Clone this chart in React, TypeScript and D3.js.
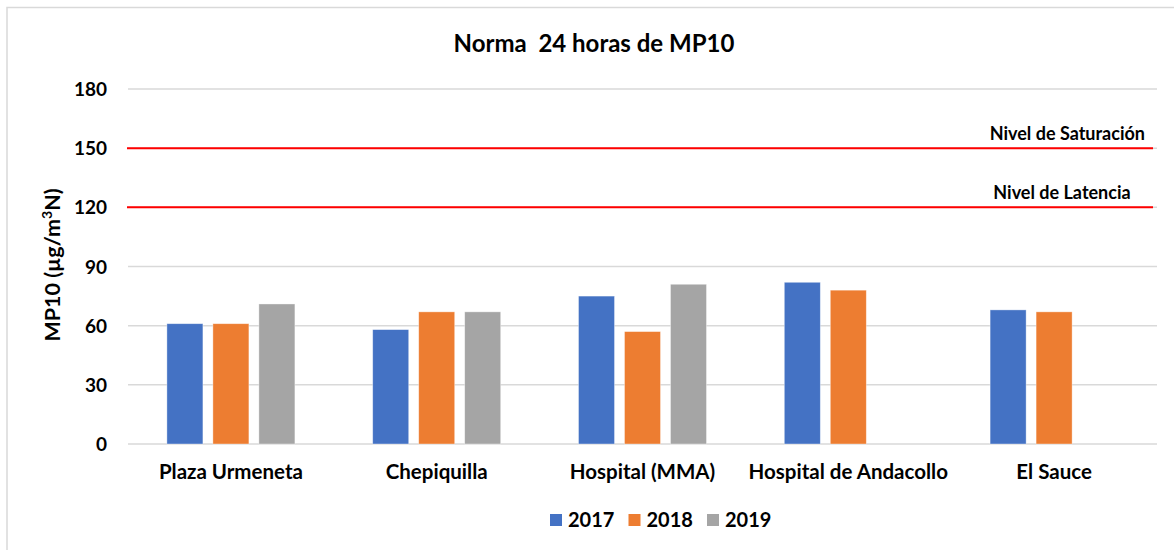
import * as d3 from 'd3';

const categories = ['Plaza Urmeneta', 'Chepiquilla', 'Hospital (MMA)', 'Hospital de Andacollo', 'El Sauce'];
const years = ['2017', '2018', '2019'];
const values2017 = [61, 58, 75, 82, 68];
const values2018 = [61, 67, 57, 78, 67];
const values2019: (number | null)[] = [71, 67, 81, null, null];
const yTicks = [0, 30, 60, 90, 120, 150, 180];
const limits = [
  { value: 150, label: 'Nivel de Saturación' },
  { value: 120, label: 'Nivel de Latencia' },
];
const colors = ['#4472C4', '#ED7D31', '#A5A5A5'];

const W = 1174;
const H = 550;
const font = 'Lato, "Open Sans", sans-serif';

const App = () => {
  const left = 128;
  const right = 1157;
  const top = 89;
  const bottom = 444;

  const x0 = d3.scaleBand<string>().domain(categories).range([left, right]).padding(0);
  const groupW = 128;
  const x1 = d3.scaleBand<string>().domain(years).range([0, groupW]).paddingInner(0.217).paddingOuter(0);
  const y = d3.scaleLinear().domain([0, 180]).range([bottom, top]);

  const series = [values2017, values2018, values2019];

  return (
    <svg width={W} height={H} style={{ position: 'absolute', left: 0, top: 0, background: '#fff' }} fontFamily={font}>
      <rect x={7} y={7.5} width={W + 10} height={H + 10} fill="#fff" stroke="#d9d9d9" strokeWidth={1.5} />
      <text x={594} y={52} textAnchor="middle" fontSize={24} fontWeight="bold" fill="#000" style={{ whiteSpace: 'pre' }}>
        {'Norma  24 horas de MP10'}
      </text>

      {/* gridlines + y ticks */}
      {yTicks.map((t) => (
        <g key={t}>
          <line x1={left} x2={right} y1={y(t)} y2={y(t)} stroke="#d9d9d9" strokeWidth={1.5} />
          <text x={107} y={y(t) + 7} textAnchor="end" fontSize={19} fontWeight="bold" fill="#000">{t}</text>
        </g>
      ))}

      {/* red limit lines */}
      {limits.map((l, i) => (
        <g key={l.label}>
          <line x1={127} x2={1153} y1={y(l.value)} y2={y(l.value)} stroke="#FF0000" strokeWidth={2} />
          <text x={i === 0 ? 1145 : 1062} y={y(l.value) - 8} textAnchor={i === 0 ? 'end' : 'middle'} fontSize={18} fontWeight="bold" fill="#000">
            {l.label}
          </text>
        </g>
      ))}

      {/* bars */}
      {categories.map((c, ci) => {
        const gx = (x0(c) as number) + x0.bandwidth() / 2 - groupW / 2;
        return (
          <g key={c} transform={`translate(${gx},0)`}>
            {series.map((s, si) => {
              const v = s[ci];
              if (v == null) return null;
              return (
                <rect
                  key={si}
                  x={x1(years[si])}
                  y={y(v)}
                  width={x1.bandwidth()}
                  height={y(0) - y(v)}
                  fill={colors[si]}
                  stroke="#fff"
                  strokeOpacity={0.5}
                  strokeWidth={0.75}
                />
              );
            })}
          </g>
        );
      })}

      {/* x labels */}
      {categories.map((c) => (
        <text key={c} x={(x0(c) as number) + x0.bandwidth() / 2} y={479} textAnchor="middle" fontSize={20.5} fontWeight="bold" fill="#000">
          {c}
        </text>
      ))}

      {/* y axis title */}
      <text transform="translate(60,265) rotate(-90)" textAnchor="middle" fontSize={21.5} fontWeight="bold" fill="#000">
        MP10 (µg/m<tspan dy={-8} fontSize={14}>3</tspan><tspan dy={8}>N)</tspan>
      </text>

      {/* legend */}
      {years.map((yr, i) => {
        const lx = 550 + i * 78.5;
        return (
          <g key={yr}>
            <rect x={lx} y={514} width={12} height={12} fill={colors[i]} />
            <text x={lx + 18} y={527} fontSize={20} fontWeight="bold" fill="#000">{yr}</text>
          </g>
        );
      })}
    </svg>
  );
};

export default App;
